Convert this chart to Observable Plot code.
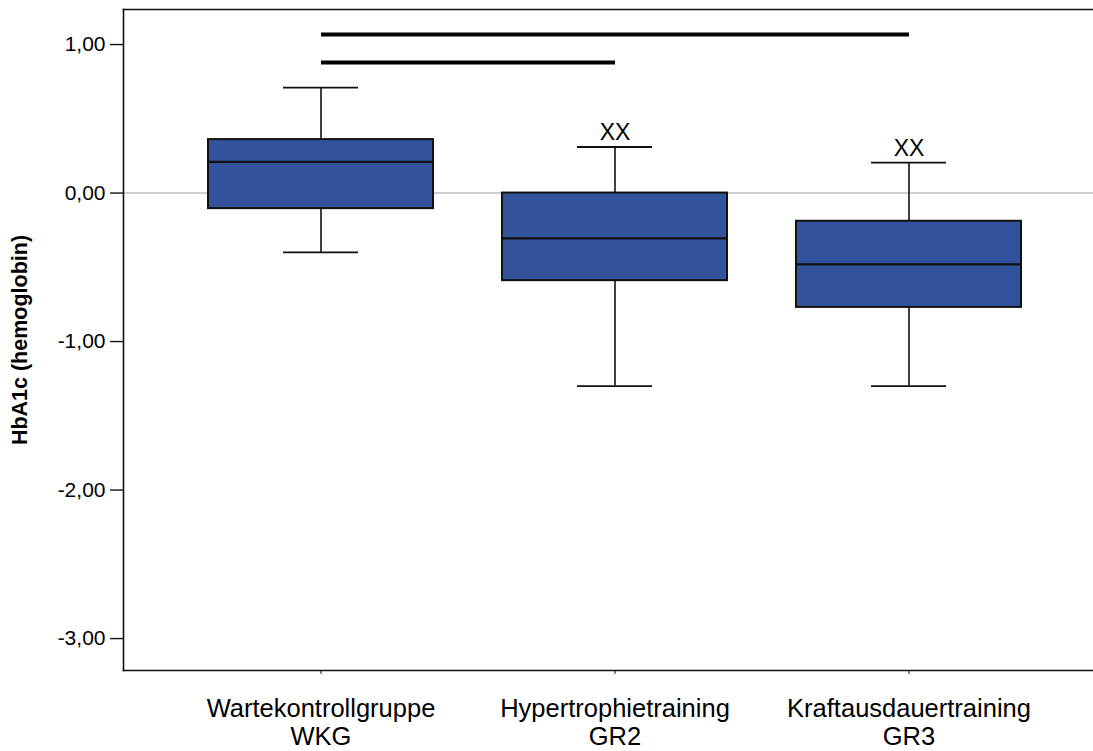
<!DOCTYPE html>
<html>
<head>
<meta charset="utf-8">
<script src="https://cdn.jsdelivr.net/npm/d3@7"></script>
<script src="https://cdn.jsdelivr.net/npm/@observablehq/plot@0.6"></script>
<style>
  html, body { margin: 0; padding: 0; background: white; }
</style>
</head>
<body>
<div id="chart"></div>
<script>
// Categories
const groupNames = ["Wartekontrollgruppe", "Hypertrophietraining", "Kraftausdauertraining"];
const groupCodes = ["WKG", "GR2", "GR3"];

// Box-plot summary values (HbA1c change)
const whiskerLow = [-0.40, -1.30, -1.30];
const q1Values   = [-0.105, -0.59, -0.77];
const medians    = [0.21, -0.305, -0.48];
const q3Values   = [0.36, 0.00, -0.19];
const whiskerHigh = [0.71, 0.31, 0.205];

// Significance markers above boxes
const markerText = ["", "XX", "XX"];

// Significance bars (from group, to group, level)
const sigFrom = ["WKG", "WKG"];
const sigTo   = ["GR3", "GR2"];
const sigLevel = [1.067, 0.879];

// Axis ticks
const yTicks = [1, 0, -1, -2, -3];
const yDomain = [-3.215, 1.236];

const boxes = groupCodes.map((code, i) => ({
  code, name: groupNames[i],
  lo: whiskerLow[i], q1: q1Values[i], med: medians[i], q3: q3Values[i], hi: whiskerHigh[i],
  marker: markerText[i]
}));
const sigBars = sigFrom.map((f, i) => ({from: f, to: sigTo[i], y: sigLevel[i]}));
const nameOf = Object.fromEntries(groupCodes.map((c, i) => [c, groupNames[i]]));

const font = "'Liberation Sans', Arial, Helvetica, sans-serif";
const fmt = d => d.toFixed(2).replace(".", ",");

const chart = Plot.plot({
  width: 1093,
  height: 751,
  marginLeft: 123,
  marginRight: 0,
  marginTop: 9,
  marginBottom: 81,
  style: {fontFamily: font, color: "black", background: "white"},
  x: {type: "band", domain: groupCodes, range: [173, 1055], paddingInner: 0.235, paddingOuter: 0.1175},
  y: {domain: yDomain},
  marks: [
    Plot.ruleY([0], {stroke: "#bdbdbd", strokeWidth: 1.5}),
    Plot.ruleX(boxes, {x: "code", y1: "lo", y2: "hi", stroke: "#111", strokeWidth: 1.6}),
    Plot.tickY(boxes, {x: "code", y: "lo", stroke: "#111", strokeWidth: 1.8, insetLeft: 75, insetRight: 75}),
    Plot.tickY(boxes, {x: "code", y: "hi", stroke: "#111", strokeWidth: 1.8, insetLeft: 75, insetRight: 75}),
    Plot.barY(boxes, {x: "code", y1: "q1", y2: "q3", fill: "#32539c", stroke: "#111", strokeWidth: 2}),
    Plot.tickY(boxes, {x: "code", y: "med", stroke: "#111", strokeWidth: 2.2}),
    Plot.text(boxes, {x: "code", y: "hi", text: "marker", dy: -14, fontSize: 23, fill: "black"}),
    Plot.link(sigBars, {x1: "from", x2: "to", y1: "y", y2: "y", stroke: "black", strokeWidth: 4}),
    Plot.frame({anchor: "left", stroke: "#111", strokeWidth: 1.6}),
    Plot.frame({anchor: "top", stroke: "#111", strokeWidth: 1.6}),
    Plot.frame({anchor: "bottom", stroke: "#111", strokeWidth: 1.6}),
    Plot.axisY({ticks: yTicks, tickFormat: fmt, tickSize: 13, tickPadding: 5, fontSize: 21, label: null, stroke: "#111", strokeWidth: 1.4}),
    Plot.axisX({tickSize: 4, tickPadding: 22, fontSize: 25.5, lineHeight: 1.12, label: null,
      tickFormat: c => nameOf[c] + "\n" + c, stroke: "#111"}),
    Plot.text(["HbA1c (hemoglobin)"], {frameAnchor: "left", dx: -103, rotate: -90, textAnchor: "middle", fontSize: 21.5, fontWeight: "bold", fill: "black"})
  ]
});
document.getElementById("chart").appendChild(chart);
</script>
</body>
</html>
